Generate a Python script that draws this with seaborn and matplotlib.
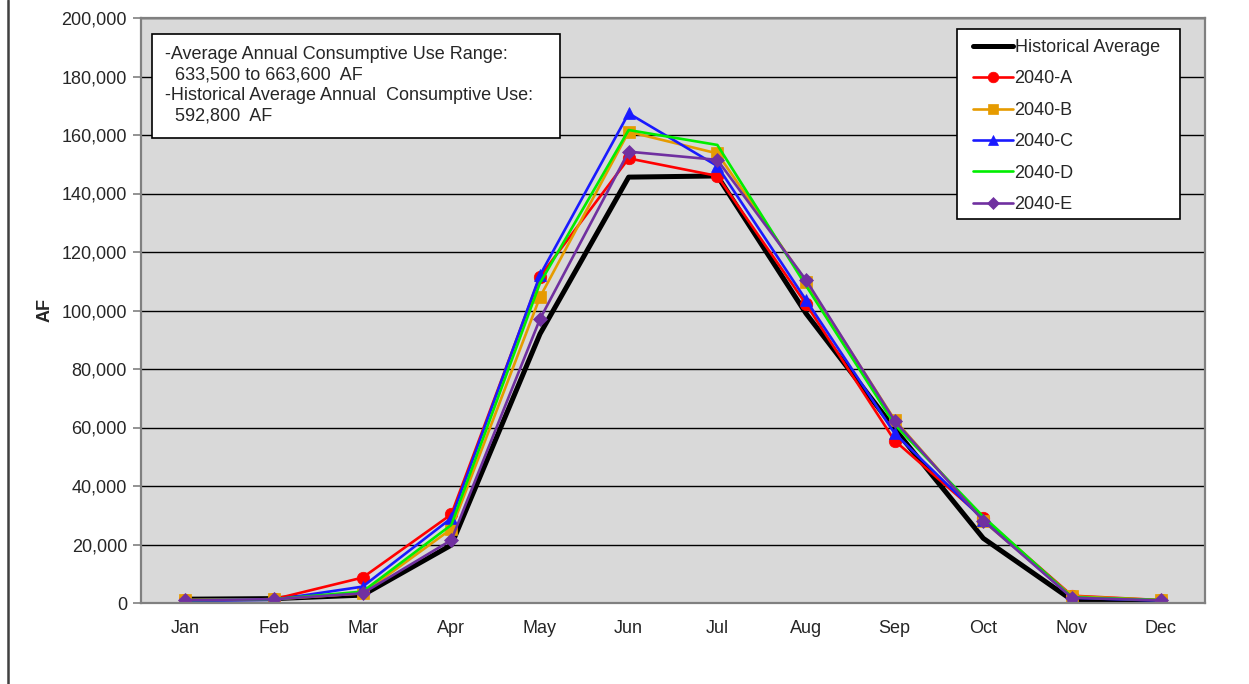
import numpy as np
import pandas as pd
import matplotlib
matplotlib.use("Agg")
import matplotlib.pyplot as plt
from matplotlib.patches import Rectangle
from matplotlib.lines import Line2D
import seaborn as sns

MONTHS = ["Jan", "Feb", "Mar", "Apr", "May", "Jun",
          "Jul", "Aug", "Sep", "Oct", "Nov", "Dec"]

HIST_AVG = [1300, 1500, 2700, 19800, 92000, 145600, 146000, 99000, 59500, 22100, 1000, 500]
S2040_A = [1000, 1300, 8700, 30300, 111600, 152000, 146000, 102200, 55500, 29000, 2500, 1000]
S2040_B = [1000, 1300, 3300, 25300, 104600, 161100, 153700, 109900, 62600, 28100, 2300, 1000]
S2040_C = [800, 1100, 5600, 29000, 112100, 167400, 149400, 103600, 58000, 28500, 1800, 800]
S2040_D = [1000, 1300, 3900, 26700, 109400, 161700, 156600, 108500, 61000, 29500, 2000, 1000]
S2040_E = [1000, 1300, 3300, 21500, 97100, 154300, 151500, 110400, 62300, 28100, 1800, 900]

SERIES = ["Historical Average", "2040-A", "2040-B", "2040-C", "2040-D", "2040-E"]
VALUES = [HIST_AVG, S2040_A, S2040_B, S2040_C, S2040_D, S2040_E]

NOTE_LINES = [
    "-Average Annual Consumptive Use Range:",
    "  633,500 to 663,600  AF",
    "-Historical Average Annual  Consumptive Use:",
    "  592,800  AF",
]

styles = {
    "Historical Average": dict(color="black", lw=3.6, marker=None, ms=0),
    "2040-A": dict(color="#FF0000", lw=1.9, marker="o", ms=9),
    "2040-B": dict(color="#E69B00", lw=1.9, marker="s", ms=8.5),
    "2040-C": dict(color="#1A1AFF", lw=1.9, marker="^", ms=9),
    "2040-D": dict(color="#00EE00", lw=1.9, marker=None, ms=0),
    "2040-E": dict(color="#7030A0", lw=1.9, marker="D", ms=7),
}

FS = 13

sns.set_theme(style="white")
plt.rcParams["font.family"] = ["Liberation Sans", "DejaVu Sans"]

W, H = 1249, 684
fig = plt.figure(figsize=(W / 100, H / 100), dpi=100)
ax = fig.add_axes([141 / W, 1 - 603 / H, (1205 - 141) / W, (603 - 18) / H])
ax.set_facecolor("#D9D9D9")

x = np.arange(len(MONTHS))
for name, vals in zip(SERIES, VALUES):
    st = styles[name]
    sns.lineplot(x=x, y=vals, ax=ax, label=name, color=st["color"],
                 linewidth=st["lw"], marker=st["marker"], markersize=st["ms"],
                 markeredgecolor=st["color"], markeredgewidth=0.5, sort=False)

ax.set_xlim(-0.5, 11.5)
ax.set_ylim(0, 200000)
ax.set_yticks(np.arange(0, 200001, 20000))
ax.set_yticklabels([f"{v:,.0f}" for v in np.arange(0, 200001, 20000)], fontsize=FS)
ax.yaxis.grid(True, color="black", linewidth=1.0)
ax.set_axisbelow(True)

ax.set_xticks(np.arange(-0.5, 12, 1))
ax.set_xticklabels([])
ax.set_xticks(x, minor=True)
ax.set_xticklabels(MONTHS, minor=True, fontsize=FS)
ax.tick_params(axis="x", which="major", direction="out", length=6, width=1.2, color="#808080")
ax.tick_params(axis="x", which="minor", length=0, pad=12)
ax.tick_params(axis="y", direction="out", length=6, width=1.2, color="#808080", pad=4, left=True)

for sp in ax.spines.values():
    sp.set_color("#808080")
    sp.set_linewidth(1.6)

ax.set_xlabel("")
ax.set_ylabel("AF", fontsize=FS, fontweight="bold", labelpad=6)

# legend frame drawn separately to match the reference box
ax.add_patch(Rectangle((957 / W, 1 - 219 / H), (1180 - 957) / W, (219 - 29) / H,
                       transform=fig.transFigure, clip_on=False, facecolor="white",
                       edgecolor="black", linewidth=1.2, zorder=4))
leg = ax.legend(loc="upper left", bbox_to_anchor=(973 / W, 1 - 39 / H),
                bbox_transform=fig.transFigure, borderaxespad=0, frameon=False,
                fontsize=FS, handlelength=2.2, handletextpad=0.1,
                labelspacing=0.8, borderpad=0, markerscale=0.85)
leg.set_zorder(6)

# note box
fig.patches.append(Rectangle((152 / W, 1 - 138 / H), (560 - 152) / W, (138 - 34) / H,
                             transform=fig.transFigure, facecolor="white",
                             edgecolor="black", linewidth=1.2, zorder=5))
for i, line in enumerate(NOTE_LINES):
    fig.text(165 / W, 1 - (54.5 + 20.5 * i) / H, line, fontsize=FS,
             va="center", ha="left", zorder=6)

# chart area border on the left
fig.add_artist(Line2D([7.5 / W, 7.5 / W], [0, 1], transform=fig.transFigure,
                      color="#404040", linewidth=1.8))

fig.savefig("out.png", dpi=100)
